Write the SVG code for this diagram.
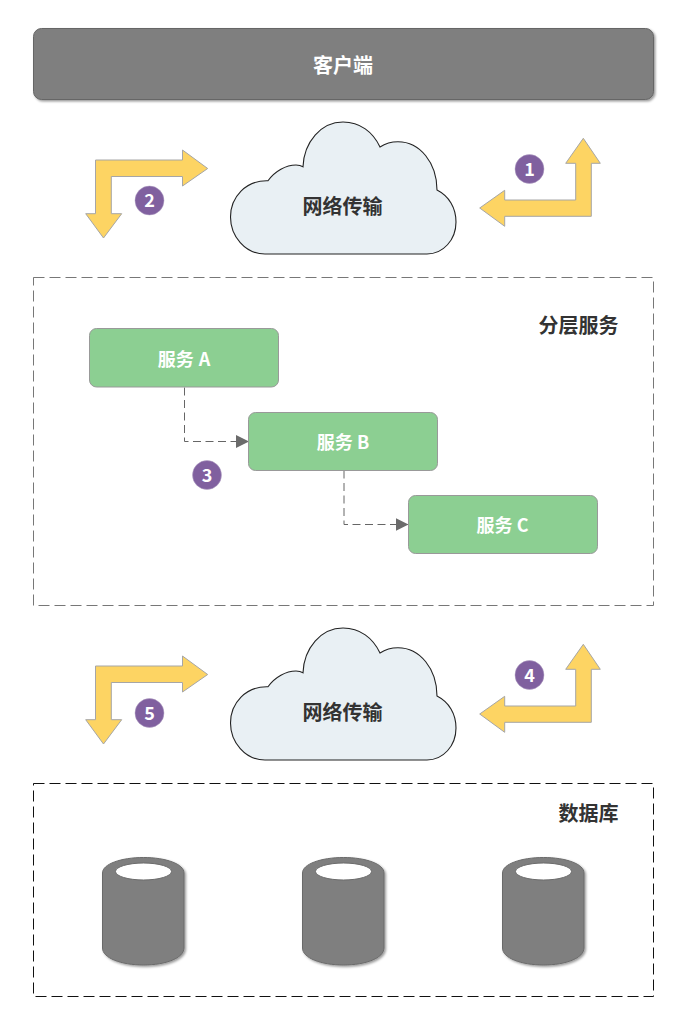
<svg xmlns="http://www.w3.org/2000/svg" xmlns:xlink="http://www.w3.org/1999/xlink" width="684" height="1024" viewBox="0 0 684 1024">
<style>
text{font-family:"Noto Sans CJK SC","Liberation Sans",sans-serif;font-weight:700;text-anchor:middle}
.dark{fill:#333;font-size:20px}
.white{fill:#fff;font-size:18px}
.title{fill:#fff;font-size:20px}
.num{fill:#fff;font-size:18px}
.arrow{fill:#fdd463;stroke:#a6a6a6;stroke-width:1}
.cloud{fill:#e9f0f4;stroke:#222;stroke-width:1.1}
.svc{fill:#8ccf92;stroke:#999;stroke-width:1}
.badge{fill:#80609f;stroke:#b3a3c4;stroke-width:.5}
.conn{fill:none;stroke:#666;stroke-width:1;stroke-dasharray:8 4.5}
.db{fill:#7f7f7f;stroke:#6b6b6b;stroke-width:1}
</style>
<defs>
<filter id="sh" x="-10%" y="-10%" width="125%" height="125%"><feDropShadow dx="1.5" dy="1.5" stdDeviation="1.2" flood-color="#000" flood-opacity=".4"/></filter>
<marker id="tri" markerUnits="userSpaceOnUse" markerWidth="14" markerHeight="14" refX="13" refY="6.5" orient="auto"><path d="M0 0L13 6.5L0 13Z" fill="#6b6b6b"/></marker>
<path id="cloudShape" class="cloud" d="M265 254C245 254 230.500 236 230.500 217C230.500 197 246 180 268 180.700C275 171 286 165 296 165C299 165 301 165.500 303 166.700C304 142 321 122 343 122C360 122 373 132 380 147C386 143 392 141.700 398 141.700C420 141.700 437 163 437 190C449 196 456 208 456 222C456 240 443 254 427 254Z"/>
<path id="arrowLeft" class="arrow" d="M95.500 160H182.500V150L207.700 168.500L182.500 186V176.500H111.300V213.700H121.700L103.500 238L85.700 213.700H95.500Z"/>
<path id="arrowRight" class="arrow" d="M583.300 138.300L600.300 163.300H591.300V216.300H504.700V226.300L479.700 208L504.700 190.300V200H575.700V163.300H565.700Z"/>
<g id="cyl">
<path class="db" filter="url(#sh)" d="M102.500 873C102.500 864 121 857.500 143.500 857.500C166 857.500 184 864 184 873V948C184 958 166 965 143.500 965C121 965 102.500 958 102.500 948Z"/>
<ellipse cx="143.500" cy="871.500" rx="28" ry="8.500" fill="#fff" stroke="#6b6b6b" stroke-width="1"/>
</g>
</defs>

<g id="client">
<rect x="33.500" y="28.500" width="620" height="71" rx="8" fill="#7f7f7f" stroke="#666" stroke-width="1" filter="url(#sh)"/>
<text class="title" x="343" y="73">客户端</text>
</g>

<g id="cloud-top"><use xlink:href="#cloudShape"/><text class="dark" x="342.500" y="214">网络传输</text></g>
<g id="arrow-2"><use xlink:href="#arrowLeft"/></g>
<g id="arrow-1"><use xlink:href="#arrowRight"/></g>

<g id="layer-services">
<rect x="33.500" y="277.500" width="620" height="328" fill="none" stroke="#777" stroke-width="1" stroke-dasharray="11 5"/>
<text class="dark" x="578.500" y="333">分层服务</text>
</g>

<g id="connectors">
<path class="conn" marker-end="url(#tri)" d="M184.500 387.500V441.500H249"/>
<path class="conn" marker-end="url(#tri)" d="M344 470.500V524.500H408.500"/>
</g>

<g id="service-a"><rect class="svc" x="89.500" y="328.500" width="189" height="58.500" rx="7"/><text class="white" x="184" y="366" word-spacing="1">服务 A</text></g>
<g id="service-b"><rect class="svc" x="248.500" y="412.500" width="189" height="58" rx="7"/><text class="white" x="343" y="449">服务 B</text></g>
<g id="service-c"><rect class="svc" x="408.500" y="495.500" width="189" height="58" rx="7"/><text class="white" x="502.500" y="532">服务 C</text></g>

<g id="cloud-bottom"><use xlink:href="#cloudShape" y="506"/><text class="dark" x="342.500" y="720">网络传输</text></g>
<g id="arrow-5"><use xlink:href="#arrowLeft" y="506"/></g>
<g id="arrow-4"><use xlink:href="#arrowRight" y="506"/></g>

<g id="badge-1"><circle class="badge" cx="529.500" cy="169" r="14.500"/><text class="num" x="529.500" y="175.500">1</text></g>
<g id="badge-2"><circle class="badge" cx="149.500" cy="200.500" r="14.500"/><text class="num" x="149.500" y="207">2</text></g>
<g id="badge-3"><circle class="badge" cx="207" cy="475" r="14.500"/><text class="num" x="207" y="481.500">3</text></g>
<g id="badge-4"><circle class="badge" cx="529.500" cy="675" r="14.500"/><text class="num" x="529.500" y="681.500">4</text></g>
<g id="badge-5"><circle class="badge" cx="149.500" cy="713" r="14.500"/><text class="num" x="149.500" y="719.500">5</text></g>

<g id="database">
<rect x="33.500" y="783.500" width="620" height="213" fill="none" stroke="#111" stroke-width="1" stroke-dasharray="11 5"/>
<text class="dark" x="588.500" y="821">数据库</text>
</g>
<g id="db-1"><use xlink:href="#cyl"/></g>
<g id="db-2"><use xlink:href="#cyl" x="200"/></g>
<g id="db-3"><use xlink:href="#cyl" x="400"/></g>
</svg>
